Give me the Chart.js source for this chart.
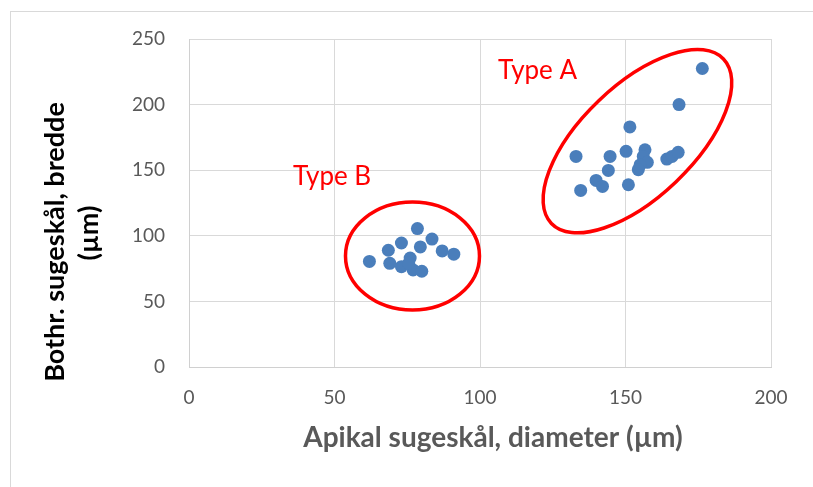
<!DOCTYPE html>
<html>
<head>
<meta charset="utf-8">
<script src="https://cdn.jsdelivr.net/npm/chart.js@4.4.1/dist/chart.umd.min.js"></script>
<style>
  html, body { margin: 0; padding: 0; background: #fff; overflow: hidden; }
  #wrap { position: relative; width: 813px; height: 487px; }
  #frame { position: absolute; left: 10px; top: 11px; width: 900px; height: 600px; border: 1px solid #d9d9d9; }
  canvas { position: absolute; left: 0; top: 0; }
</style>
</head>
<body>
<div id="wrap">
  <div id="frame"></div>
  <canvas id="chart" width="813" height="487"></canvas>
</div>
<script>
// Data
const typeA_x = [176.4, 168.4, 151.5, 133, 144.7, 150.2, 156.7, 156.1, 157.5, 155, 154.4, 164.2, 166, 168.1, 144.1, 139.9, 142.1, 134.6, 151];
const typeA_y = [227.5, 200, 183, 160.5, 160.5, 164.4, 165.6, 160.5, 156, 154, 150.4, 158.5, 160.5, 163.6, 149.8, 142.2, 137.6, 134.6, 138.9];
const typeB_x = [62, 68.5, 73, 78.5, 83.5, 79.5, 87, 91, 69, 73, 76, 77, 80, 75.5];
const typeB_y = [80.5, 89, 94.5, 105.5, 97.5, 91.5, 88.5, 86, 79, 76.5, 83, 74, 73, 79];

const xTicks = [0, 50, 100, 150, 200];
const yTicks = [0, 50, 100, 150, 200, 250];

const xTitle = 'Apikal sugeskål, diameter (µm)';
const yTitle = ['Bothr. sugeskål, bredde', '(µm)'];

const groupLabels = ['Type A', 'Type B'];

function toPoints(xs, ys) {
  return xs.map((x, i) => ({ x: x, y: ys[i] }));
}

const FONT = 'Lato, "Open Sans", sans-serif';
const MARKER = '#4a7ebb';

// ellipses round the groups: centre in data units, radii in pixels
const ellipses = [
  { cx: 154.1, cy: 172.1, rx: 119, ry: 56, rot: -43.7 },
  { cx: 76.8, cy: 84.6, rx: 67, ry: 54, rot: 0 }
];
// label anchors (left, baseline) in data units
const labelPos = [
  { x: 106.2, y: 219.5 },
  { x: 35.7, y: 139 }
];

const groupsPlugin = {
  id: 'groups',
  afterDatasetsDraw(chart) {
    const { ctx, scales: { x, y } } = chart;
    ctx.save();
    ctx.strokeStyle = '#ff0000';
    ctx.lineWidth = 3.5;
    ellipses.forEach(e => {
      ctx.beginPath();
      ctx.ellipse(x.getPixelForValue(e.cx), y.getPixelForValue(e.cy), e.rx, e.ry, e.rot * Math.PI / 180, 0, Math.PI * 2);
      ctx.stroke();
    });
    ctx.fillStyle = '#ff0000';
    ctx.font = '26px ' + FONT;
    ctx.textAlign = 'left';
    ctx.textBaseline = 'alphabetic';
    groupLabels.forEach((t, i) => {
      ctx.fillText(t, x.getPixelForValue(labelPos[i].x), y.getPixelForValue(labelPos[i].y));
    });
    ctx.restore();
  }
};

// axis titles, placed the way the original has them
const titlesPlugin = {
  id: 'titles',
  afterDraw(chart) {
    const { ctx, chartArea } = chart;
    ctx.save();
    ctx.textAlign = 'center';
    ctx.textBaseline = 'middle';
    ctx.font = 'bold 28px ' + FONT;
    ctx.fillStyle = '#595959';
    ctx.fillText(xTitle, (chartArea.left + chartArea.right) / 2 + 13, chartArea.bottom + 71);
    ctx.font = 'bold 27px ' + FONT;
    ctx.fillStyle = '#000000';
    ctx.translate(0, 242);
    ctx.rotate(-Math.PI / 2);
    ctx.fillText(yTitle[0], 0, 55);
    ctx.fillText(yTitle[1], 9, 89);
    ctx.restore();
  }
};

new Chart(document.getElementById('chart'), {
  type: 'scatter',
  data: {
    datasets: [
      { label: groupLabels[0], data: toPoints(typeA_x, typeA_y), backgroundColor: MARKER, borderColor: MARKER, borderWidth: 0, pointRadius: 6.5 },
      { label: groupLabels[1], data: toPoints(typeB_x, typeB_y), backgroundColor: MARKER, borderColor: MARKER, borderWidth: 0, pointRadius: 6.5 }
    ]
  },
  options: {
    responsive: false,
    animation: false,
    layout: { padding: { left: 0, top: 39, right: 42, bottom: 0 } },
    plugins: {
      legend: { display: false },
      tooltip: { enabled: false }
    },
    scales: {
      x: {
        type: 'linear',
        min: xTicks[0],
        max: xTicks[xTicks.length - 1],
        afterBuildTicks(scale) { scale.ticks = xTicks.map(v => ({ value: v })); },
        afterFit(scale) { scale.height = 120; },
        grid: { color: '#d9d9d9', drawTicks: false },
        border: { color: '#d0d0d0' },
        ticks: { color: '#595959', font: { family: FONT, size: 19 }, padding: 19 }
      },
      y: {
        type: 'linear',
        min: yTicks[0],
        max: yTicks[yTicks.length - 1],
        afterBuildTicks(scale) { scale.ticks = yTicks.map(v => ({ value: v })); },
        afterFit(scale) { scale.width = 189; },
        grid: { color: '#d9d9d9', drawTicks: false },
        border: { color: '#d0d0d0' },
        ticks: { color: '#595959', font: { family: FONT, size: 19 }, padding: 24 }
      }
    }
  },
  plugins: [groupsPlugin, titlesPlugin]
});
</script>
</body>
</html>
